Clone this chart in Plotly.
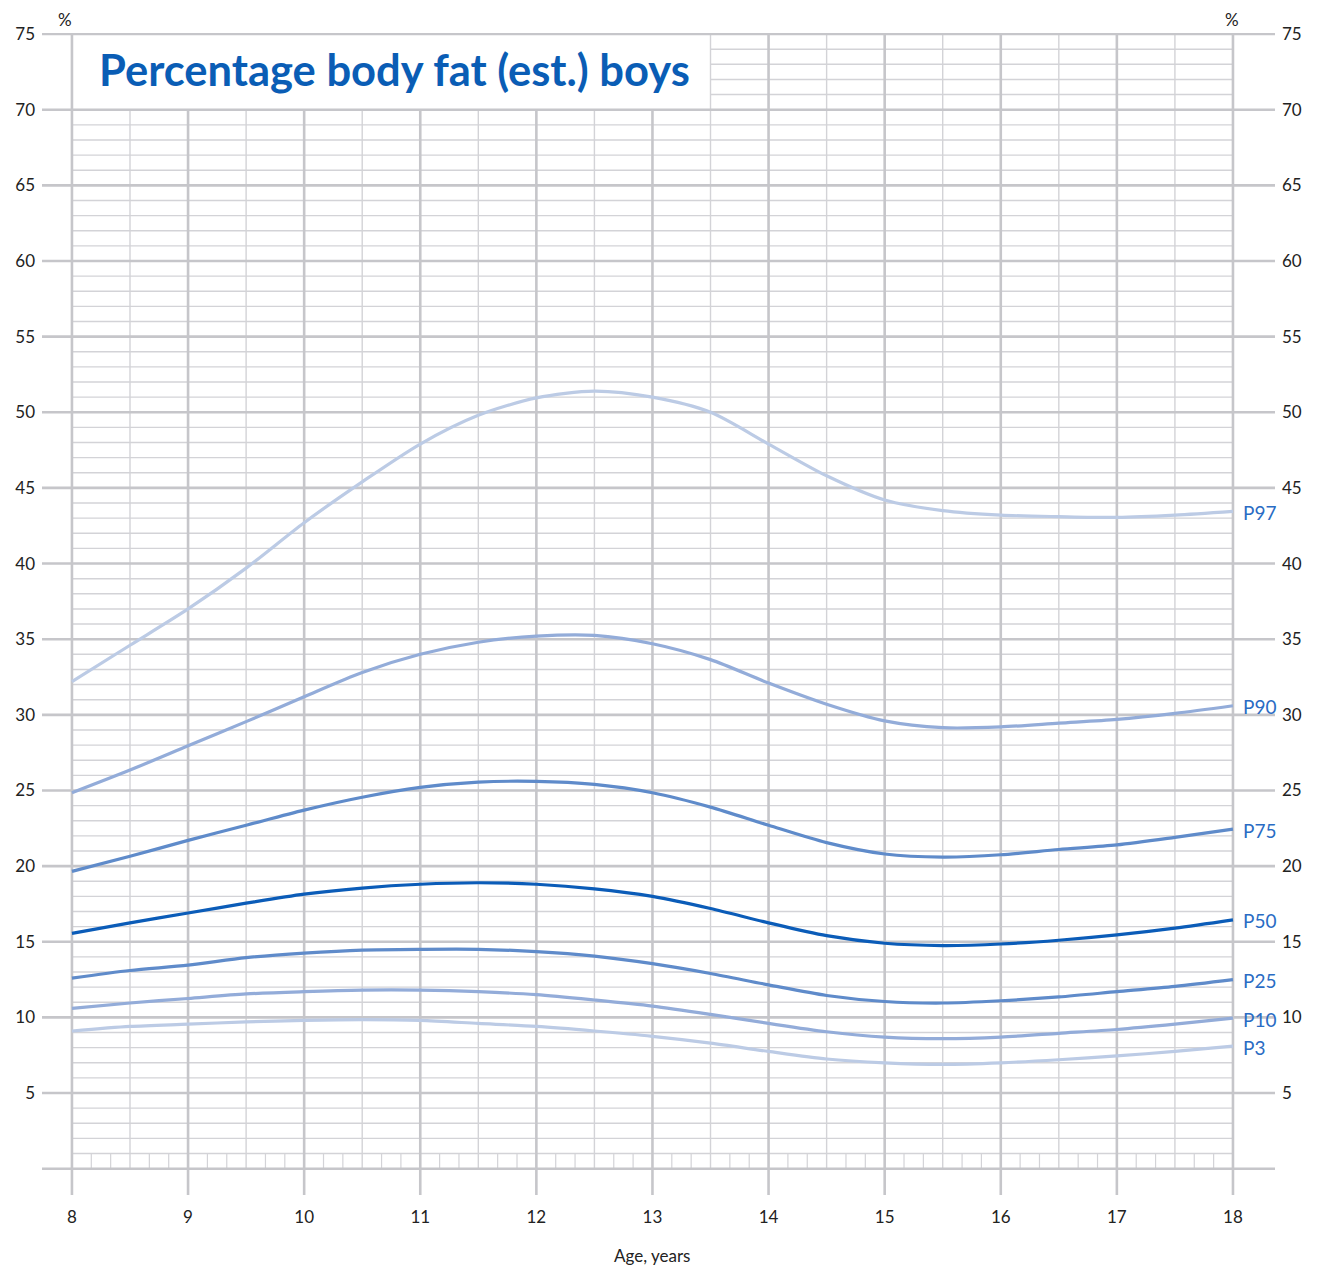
import plotly.graph_objects as go

# ---------------- data ----------------
ages = [8, 8.5, 9, 9.5, 10, 10.5, 11, 11.5, 12, 12.5, 13,
        13.5, 14, 14.5, 15, 15.5, 16, 16.5, 17, 17.5, 18]

p97 = [32.2, 34.6, 37.0, 39.7, 42.7, 45.4, 47.9, 49.8, 50.95, 51.4, 51.0,
       50.0, 47.9, 45.8, 44.2, 43.5, 43.2, 43.1, 43.05, 43.2, 43.45]
p90 = [24.85, 26.35, 27.95, 29.55, 31.2, 32.8, 34.0, 34.8, 35.2, 35.25, 34.7,
       33.65, 32.1, 30.7, 29.6, 29.15, 29.2, 29.45, 29.7, 30.1, 30.6]
p75 = [19.65, 20.65, 21.7, 22.7, 23.7, 24.55, 25.2, 25.55, 25.6, 25.4, 24.85,
       23.9, 22.7, 21.55, 20.8, 20.6, 20.75, 21.1, 21.4, 21.9, 22.45]
p50 = [15.55, 16.25, 16.9, 17.55, 18.15, 18.55, 18.8, 18.9, 18.8, 18.5, 18.0,
       17.2, 16.25, 15.4, 14.9, 14.75, 14.85, 15.1, 15.45, 15.9, 16.45]
p25 = [12.6, 13.1, 13.45, 13.95, 14.25, 14.45, 14.5, 14.5, 14.35, 14.05, 13.55,
       12.9, 12.15, 11.45, 11.05, 10.95, 11.1, 11.35, 11.7, 12.05, 12.5]
p10 = [10.6, 10.95, 11.25, 11.55, 11.7, 11.8, 11.8, 11.7, 11.5, 11.15, 10.75,
       10.2, 9.6, 9.05, 8.7, 8.6, 8.7, 8.95, 9.2, 9.55, 9.95]
p3 = [9.1, 9.4, 9.55, 9.7, 9.8, 9.85, 9.8, 9.6, 9.4, 9.1, 8.75,
      8.3, 7.75, 7.25, 7.0, 6.9, 7.0, 7.2, 7.45, 7.75, 8.1]

series_names = ["P97", "P90", "P75", "P50", "P25", "P10", "P3"]
series_values = [p97, p90, p75, p50, p25, p10, p3]
series_colors = ["#bccbe5", "#93acd9", "#5f8bca", "#0b5cb8", "#5f8bca", "#93acd9", "#bccbe5"]

x_ticks = list(range(8, 19))
y_ticks = list(range(5, 80, 5))
title_text = "Percentage body fat (est.) boys"
x_title = "Age, years"

# ---------------- layout geometry ----------------
X_LO, X_HI = 7.742, 18.362
Y_LO, Y_HI = -1.74, 75.07
BOX_X1 = 13.5  # right edge of title box

MAJOR = "#c6c6ca"
MINOR = "#d3d3d7"
FONT = "Lato"

shapes = []
# minor horizontal lines
for v in range(1, 75):
    if v % 5 == 0:
        continue
    x0 = BOX_X1 if v > 70 else 8
    shapes.append(dict(type="line", xref="x", yref="y", x0=x0, x1=18, y0=v, y1=v,
                       line=dict(color=MINOR, width=1.4), layer="below"))
# minor vertical half-year lines
for k in range(8, 18):
    xv = k + 0.5
    y1 = 70 if xv < BOX_X1 else 75
    shapes.append(dict(type="line", xref="x", yref="y", x0=xv, x1=xv, y0=0, y1=y1,
                       line=dict(color=MINOR, width=1.4), layer="below"))
# two-month ticks in the bottom band
for k in range(0, 61):
    if k % 3 == 0:
        continue
    xv = 8 + k / 6
    shapes.append(dict(type="line", xref="x", yref="y", x0=xv, x1=xv, y0=0, y1=1,
                       line=dict(color=MINOR, width=1.2), layer="below"))
# major horizontal lines
for v in range(0, 80, 5):
    shapes.append(dict(type="line", xref="x", yref="y", x0=X_LO, x1=X_HI, y0=v, y1=v,
                       line=dict(color=MAJOR, width=2.6), layer="below"))
# major vertical lines
for xv in x_ticks:
    y1 = 70 if 8 < xv <= 13 else 75
    shapes.append(dict(type="line", xref="x", yref="y", x0=xv, x1=xv, y0=Y_LO, y1=y1,
                       line=dict(color=MAJOR, width=2.6), layer="below"))

fig = go.Figure()
for name, vals, col in zip(series_names, series_values, series_colors):
    fig.add_trace(go.Scatter(x=ages, y=vals, mode="lines", name=name,
                             line=dict(color=col, width=3.2, shape="spline", smoothing=0.8),
                             hoverinfo="skip", showlegend=False))
# dummy trace for the right axis
fig.add_trace(go.Scatter(x=[8], y=[0], yaxis="y2", mode="markers",
                         marker=dict(opacity=0), showlegend=False, hoverinfo="skip"))

annotations = []
for name, vals in zip(series_names, series_values):
    annotations.append(dict(x=18, y=vals[-1], xref="x", yref="y", text=name,
                            showarrow=False, xanchor="left", yanchor="middle",
                            xshift=8, yshift=-1,
                            font=dict(family=FONT, size=19, color="#2a6cc4")))
annotations.append(dict(x=8.215, y=72.5, xref="x", yref="y", text="<b>" + title_text + "</b>",
                        showarrow=False, xanchor="left", yanchor="middle", yshift=3,
                        font=dict(family=FONT, size=43.5, color="#0a5db5")))
annotations.append(dict(x=8, y=75, xref="x", yref="y", text="%", showarrow=False,
                        xanchor="center", yanchor="bottom", xshift=-7, yshift=2,
                        font=dict(family=FONT, size=17, color="#222")))
annotations.append(dict(x=18, y=75, xref="x", yref="y", text="%", showarrow=False,
                        xanchor="center", yanchor="bottom", xshift=-1, yshift=2,
                        font=dict(family=FONT, size=17, color="#222")))
annotations.append(dict(x=13, y=Y_LO, xref="x", yref="y", text=x_title, showarrow=False,
                        xanchor="center", yanchor="middle", yshift=-60,
                        font=dict(family=FONT, size=17, color="#222")))

tickfont = dict(family=FONT, size=17, color="#222")
fig.update_layout(
    width=1317, height=1268,
    margin=dict(l=42, r=42, t=33, b=73),
    paper_bgcolor="white", plot_bgcolor="white",
    shapes=shapes, annotations=annotations,
    xaxis=dict(range=[X_LO, X_HI], tickvals=x_ticks, ticktext=[str(v) for v in x_ticks],
               showgrid=False, zeroline=False, showline=False, ticks="",
               tickfont=tickfont, ticklabelstandoff=10, fixedrange=True),
    yaxis=dict(range=[Y_LO, Y_HI], tickvals=y_ticks, ticktext=[str(v) for v in y_ticks],
               showgrid=False, zeroline=False, showline=False, ticks="",
               tickfont=tickfont, ticklabelstandoff=6, fixedrange=True),
    yaxis2=dict(range=[Y_LO, Y_HI], tickvals=y_ticks, ticktext=[str(v) for v in y_ticks],
                overlaying="y", side="right", showgrid=False, zeroline=False,
                showline=False, ticks="", tickfont=tickfont, ticklabelstandoff=6,
                fixedrange=True),
)

fig.write_html("out.html", config={"displayModeBar": False},
               post_script="document.body.style.margin='0';document.body.style.overflow='hidden';")
